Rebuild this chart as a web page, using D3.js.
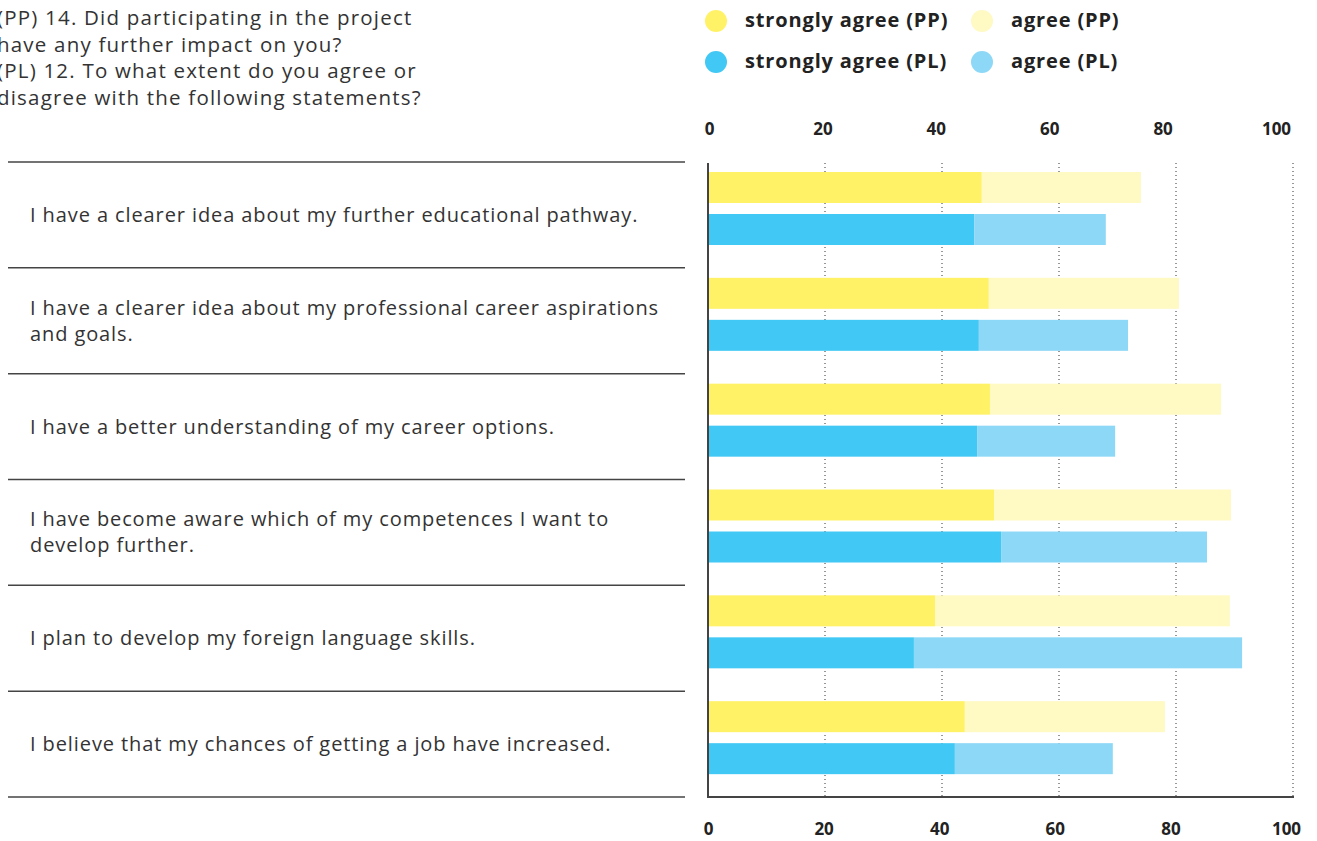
<!DOCTYPE html>
<html>
<head>
<meta charset="utf-8">
<script src="https://cdn.jsdelivr.net/npm/d3@7"></script>
<style>
  body { margin: 0; background: #fff; }
</style>
</head>
<body>
<script>
const width = 1317;
const height = 841;

// statements, one row each
const statements = [
    ["I have a clearer idea about my further educational pathway."],
    ["I have a clearer idea about my professional career aspirations", "and goals."],
    ["I have a better understanding of my career options."],
    ["I have become aware which of my competences I want to", "develop further."],
    ["I plan to develop my foreign language skills."],
    ["I believe that my chances of getting a job have increased."]
];

// percentages
const strongPP = [46.8, 48.0, 48.2, 48.9, 38.8, 43.9];
const agreePP  = [27.2, 32.5, 39.5, 40.5, 50.4, 34.2];
const strongPL = [45.5, 46.3, 46.0, 50.1, 35.2, 42.2];
const agreePL  = [22.5, 25.5, 23.6, 35.2, 56.1, 27.0];

const tickValues = [0, 20, 40, 60, 80, 100];

const titleLines = [
    "(PP) 14. Did participating in the project",
    "have any further impact on you?",
    "(PL) 12. To what extent do you agree or",
    "disagree with the following statements?"
];

const legendLabels = ["strongly agree (PP)", "agree (PP)", "strongly agree (PL)", "agree (PL)"];
const legendColors = ["#fff267", "#fff9c4", "#42c8f4", "#8ed8f7"];

const font = "'Open Sans', sans-serif";

const svg = d3.select("body")
    .append("svg")
    .attr("width", width)
    .attr("height", height);

// title (cut at the left edge like the original)
svg.append("text")
    .attr("font-family", font)
    .attr("font-size", "20.5px")
    .attr("letter-spacing", "1.2px")
    .attr("fill", "#333")
    .selectAll("tspan")
    .data(titleLines)
    .join("tspan")
    .attr("x", -3)
    .attr("y", (d, i) => 25 + i * 26.5)
    .text(d => d);

// legend
const legend = svg.append("g");
legendLabels.forEach((label, i) => {
    const lx = i % 2 === 0 ? 716 : 982;
    const ly = i < 2 ? 21 : 62;
    legend.append("circle")
        .attr("cx", lx)
        .attr("cy", ly)
        .attr("r", 11)
        .attr("fill", legendColors[i]);
    legend.append("text")
        .attr("x", lx + 29)
        .attr("y", ly + 1)
        .attr("dominant-baseline", "middle")
        .attr("font-family", font)
        .attr("font-weight", "bold")
        .attr("font-size", "20px")
        .attr("letter-spacing", "0.85px")
        .attr("fill", "#222")
        .text(label);
});

// scales
const x = d3.scaleLinear().domain([0, 100]).range([708, 1293]);
const xTop = d3.scaleLinear().domain([0, 100]).range([709, 1276]);
const xBottom = d3.scaleLinear().domain([0, 100]).range([708, 1286]);

const rows = d3.range(statements.length);
const y = d3.scaleBand().domain(rows).range([162, 797]);
const ySub = d3.scaleBand().domain(["PP", "PL"]).range([10, 83]).paddingInner(0.262);

// gridlines
svg.append("g")
    .selectAll("line")
    .data(tickValues.slice(1))
    .join("line")
    .attr("x1", d => x(d))
    .attr("x2", d => x(d))
    .attr("y1", 163)
    .attr("y2", 797)
    .attr("stroke", "#333")
    .attr("stroke-width", 1)
    .attr("stroke-dasharray", "1,3");

// row separators
svg.append("g")
    .selectAll("line")
    .data(rows.concat([rows.length]))
    .join("line")
    .attr("x1", 8)
    .attr("x2", 685)
    .attr("y1", d => d < rows.length ? y(d) : y.range()[1])
    .attr("y2", d => d < rows.length ? y(d) : y.range()[1])
    .attr("stroke", "#444")
    .attr("stroke-width", 1.5);

// labels
rows.forEach(i => {
    const lines = statements[i];
    const cy = y(i) + y.bandwidth() / 2 + 2;
    svg.append("text")
        .attr("font-family", font)
        .attr("font-size", "20px")
        .attr("letter-spacing", "0.9px")
        .attr("fill", "#333")
        .attr("dominant-baseline", "middle")
        .selectAll("tspan")
        .data(lines)
        .join("tspan")
        .attr("x", 30)
        .attr("y", (d, j) => cy + (j - (lines.length - 1) / 2) * 26)
        .text(d => d);
});

// bars
const series = [
    { key: "PP", strong: strongPP, agree: agreePP, c1: legendColors[0], c2: legendColors[1] },
    { key: "PL", strong: strongPL, agree: agreePL, c1: legendColors[2], c2: legendColors[3] }
];

const bars = svg.append("g");
series.forEach(s => {
    rows.forEach(i => {
        const by = y(i) + ySub(s.key);
        bars.append("rect")
            .attr("x", x(0))
            .attr("y", by)
            .attr("width", x(s.strong[i]) - x(0))
            .attr("height", ySub.bandwidth())
            .attr("fill", s.c1);
        bars.append("rect")
            .attr("x", x(s.strong[i]))
            .attr("y", by)
            .attr("width", x(s.strong[i] + s.agree[i]) - x(s.strong[i]))
            .attr("height", ySub.bandwidth())
            .attr("fill", s.c2);
    });
});

// axis lines
svg.append("line")
    .attr("x1", x(0)).attr("x2", x(0))
    .attr("y1", 163).attr("y2", 798)
    .attr("stroke", "#444")
    .attr("stroke-width", 2);
svg.append("line")
    .attr("x1", x(0)).attr("x2", x(100) + 1)
    .attr("y1", 797).attr("y2", 797)
    .attr("stroke", "#444")
    .attr("stroke-width", 2);

// tick labels
function styleAxis(g) {
    g.select(".domain").remove();
    g.selectAll("line").remove();
    g.selectAll("text")
        .attr("font-family", font)
        .attr("font-weight", "bold")
        .attr("font-size", "17px")
        .attr("fill", "#222");
}

svg.append("g")
    .attr("transform", "translate(0,135)")
    .call(d3.axisTop(xTop).tickValues(tickValues).tickSize(0).tickPadding(0))
    .call(styleAxis);

svg.append("g")
    .attr("transform", "translate(0,823)")
    .call(d3.axisBottom(xBottom).tickValues(tickValues).tickSize(0).tickPadding(0))
    .call(styleAxis);
</script>
</body>
</html>
